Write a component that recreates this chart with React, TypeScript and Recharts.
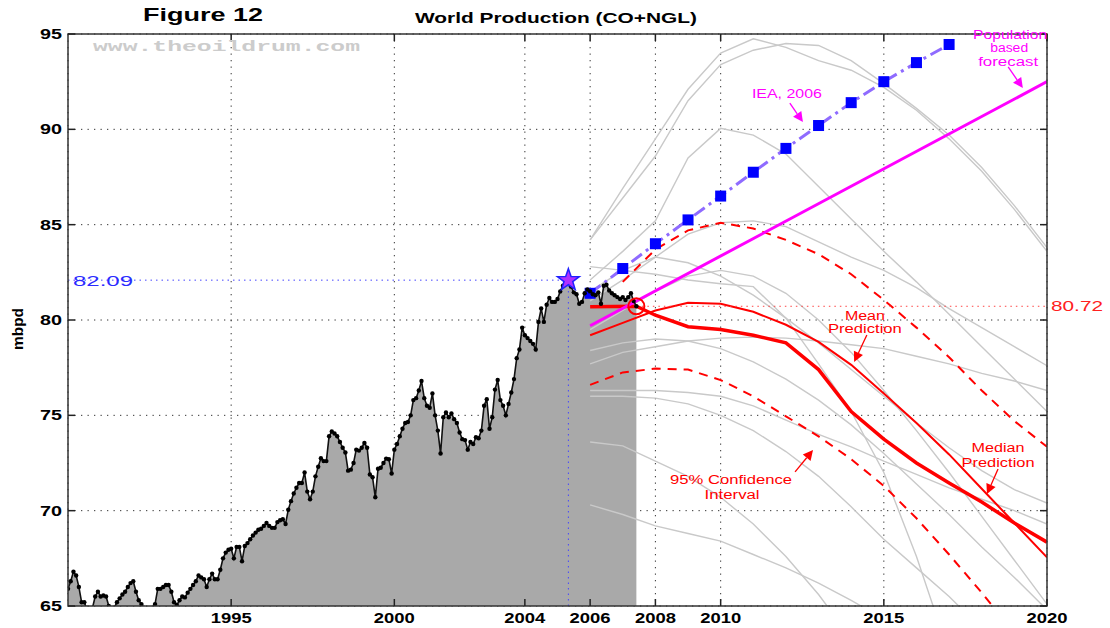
import React from 'react';
import {
  ComposedChart, Area, Line, XAxis, YAxis, CartesianGrid, ReferenceLine, ReferenceDot,
} from 'recharts';

// monthly world production (CO+NGL), mbpd, starting Jan 1990
const prod1990to1994 = [
  65.9, 66.3, 66.8, 66.6, 66.0, 65.2, 65.2, 64.8, 64.7, 64.9, 65.5, 65.75,
  65.5, 65.55, 65.5, 65.0, 64.8, 64.9, 65.2, 65.4, 65.6, 65.75, 66.0, 66.2,
  66.3, 65.75, 65.3, 65.1, 64.9, 64.8, 64.8, 64.9, 65.1, 65.9, 65.9, 66.0,
  66.1, 66.1, 65.75, 65.2, 65.05, 65.3, 65.5, 65.45, 65.7, 65.9, 66.1, 66.3,
  66.6, 66.5, 66.4, 66.0, 66.4, 66.7, 66.4, 66.4, 66.9, 67.5, 67.8, 67.95,
];
const prod1995to1999 = [
  68.0, 67.5, 68.1, 68.1, 67.35, 68.15, 68.3, 68.5, 68.7, 68.85, 69.0, 69.05,
  69.2, 69.35, 69.2, 69.1, 69.1, 69.4, 69.5, 69.55, 69.3, 70.05, 70.5, 70.9,
  71.2, 71.45, 71.45, 72.0, 71.0, 70.6, 71.0, 71.8, 72.3, 72.75, 72.6, 72.6,
  73.9, 74.15, 74.05, 73.9, 73.6, 73.3, 73.05, 72.1, 72.15, 72.5, 73.2, 73.15,
  73.3, 73.55, 73.3, 71.9, 71.75, 70.7, 72.2, 72.25, 72.5, 72.73, 72.7, 71.95,
];
const prod2000to2004 = [
  73.2, 73.5, 73.9, 74.3, 74.6, 74.65, 75.0, 75.8, 75.9, 76.3, 76.8, 75.9,
  75.5, 75.4, 76.15, 75.0, 74.2, 73.0, 74.9, 75.15, 74.9, 75.1, 74.8, 74.6,
  74.1, 73.75, 73.7, 73.2, 73.6, 73.5, 73.85, 73.8, 74.2, 75.5, 75.85, 74.3,
  74.9, 76.35, 76.85, 75.8, 75.5, 75.0, 75.6, 76.2, 76.9, 78.0, 78.45, 79.6,
  79.2, 79.05, 78.9, 78.75, 78.45, 79.9, 80.6, 79.9, 80.8, 81.15, 80.95, 80.95,
];
const prod2005to2007 = [
  81.1, 81.5, 81.8, 82.0, 82.09, 81.75, 81.45, 81.35, 80.85, 80.95, 81.4, 81.6,
  81.5, 81.35, 81.3, 81.45, 80.85, 81.8, 81.85, 81.55, 81.4, 81.3, 81.2, 81.1,
  81.2, 81.05, 81.2, 81.4, 81.0, 80.72,
];

const peakYear = 2005 + 4 / 12;
const peakValue = 82.09;
const lastYear = 2007 + 5 / 12;
const lastValue = 80.72;

const forecastYears = [2006, 2007, 2008, 2009, 2010, 2011, 2012, 2013, 2014, 2015, 2016, 2017, 2018, 2019, 2020];

const iea2006 = [81.4, 82.7, 84.0, 85.25, 86.5, 87.75, 89.0, 90.2, 91.4, 92.5, 93.5, 94.45];
const populationBased = [79.7, null, null, null, null, null, null, null, null, null, null, null, null, null, 92.5];
const meanPrediction = [79.2, 79.85, 80.5, 80.9, 80.85, 80.43, 79.75, 78.85, 77.65, 76.15, 74.6, 72.95, 71.15, 69.35, 67.55];
const medianYears = [2006, lastYear, 2008, 2009, 2010, 2011, 2012, 2013, 2014, 2015, 2016, 2017, 2018, 2019, 2020];
const medianPrediction = [80.7, 80.72, 80.25, 79.65, 79.5, 79.2, 78.8, 77.4, 75.2, 73.75, 72.5, 71.45, 70.45, 69.35, 68.35];
const upperCI = [null, 82.0, 83.7, 84.7, 85.1, 84.8, 84.2, 83.45, 82.4, 81.05, 79.6, 78.05, 76.3, 74.7, 73.35];
const lowerCI = [76.6, 77.25, 77.45, 77.4, 76.85, 76.0, 74.95, 73.9, 72.7, 71.3, 69.6, 67.7, 65.7, 63.6];

// individual model runs, one value per forecast year
const runs: number[][] = [
  [84.2, 86.9, 89.5, 92.1, 94.0, 94.75, 94.3, 93.6, 93.1, 92.2, 91.0, 89.5, 87.8, 85.8, 83.6],
  [84.2, 86.4, 88.6, 91.5, 93.4, 94.15, 94.5, 94.4, 93.6, 92.4, 91.1, 89.7, 88.0, 86.0, 83.8],
  [82.1, 83.6, 85.2, 88.5, 90.05, 89.7, 88.7, 87.0, 85.3, 83.6, 82.0, 80.3, 78.6, 76.9, 75.2],
  [81.0, 82.1, 83.3, 84.5, 85.1, 85.2, 84.9, 84.1, 83.3, 82.6, 81.7, 80.6, 79.6, 78.6, 77.6],
  [82.8, 82.6, 82.4, 82.1, 81.9, 81.75, 80.1, 77.7, 75.2, 72.0, 67.6, 62.5],
  [77.7, 78.3, 78.6, 78.9, 79.05, 79.1, 79.05, 78.9, 78.7, 78.5, 78.1, 77.7, 77.2, 76.8, 76.3],
  [79.5, 80.5, 81.5, 82.3, 82.6, 82.3, 81.4, 80.0, 78.3, 76.3, 74.2, 72.0, 69.7, 67.4, 65.1],
  [76.3, 76.3, 76.3, 76.2, 76.0, 75.5, 74.75, 74.0, 73.35, 72.6, 71.9, 71.2, 70.6, 70.0, 69.3],
  [76.0, 76.0, 75.9, 75.6, 75.0, 74.2, 73.1, 71.8, 70.2, 68.5, 67.0, 65.5, 63.8],
  [73.6, 73.4, 72.6, 71.8, 70.7, 69.3, 67.6, 65.6, 63.3],
  [70.3, 69.8, 69.2, 68.8, 68.4, 67.7, 67.0, 66.2, 65.3, 64.3],
  [81.5, 82.6, 83.3, 83.0, 82.3, 81.3, 80.1, 78.8, 77.4, 76.0, 74.6, 73.3, 72.1, 71.1, 70.4],
  [78.4, 78.8, 79.0, 78.9, 78.5, 77.8, 76.9, 75.8, 74.5, 73.0, 71.4, 69.8, 68.1, 66.5, 64.8],
];

const xTicks = [1995, 2000, 2004, 2006, 2008, 2010, 2015, 2020];
const yTicks = [65, 70, 75, 80, 85, 90, 95];

// layout
const W = 1110;
const H = 628;
const PLOT = { left: 68, right: 1047, top: 34, bottom: 606 };
const px = (yr: number) => PLOT.left + ((yr - 1990) / 30) * (PLOT.right - PLOT.left);
const py = (v: number) => PLOT.bottom - ((v - 65) / 30) * (PLOT.bottom - PLOT.top);
const FONT = '"Liberation Sans", Arial, sans-serif';

// merge every series into one table keyed by decimal year
const rows = new Map<number, any>();
const put = (x: number, field: string, v: number | null | undefined) => {
  if (v == null) return;
  const k = Math.round(x * 1000) / 1000;
  const r = rows.get(k) ?? { x: k };
  r[field] = v;
  rows.set(k, r);
};
[...prod1990to1994, ...prod1995to1999, ...prod2000to2004, ...prod2005to2007].forEach((v, m) =>
  put(1990 + m / 12, 'prod', v));
forecastYears.forEach((yr, i) => {
  put(yr, 'iea', iea2006[i]);
  put(yr, 'pop', populationBased[i]);
  put(yr, 'mean', meanPrediction[i]);
  put(yr, 'hi', upperCI[i]);
  put(yr, 'lo', lowerCI[i]);
  runs.forEach((run, j) => put(yr, `run${j}`, run[i]));
});
medianYears.forEach((yr, i) => put(yr, 'median', medianPrediction[i]));
const table = Array.from(rows.values()).sort((a, b) => a.x - b.x);

const XTick = (p: any) => (
  <text x={p.x} y={PLOT.bottom + 17} textAnchor="middle" fontSize={14} fontWeight="bold"
    fontFamily={FONT} textLength={41} lengthAdjust="spacingAndGlyphs" fill="#000">
    {p.payload.value}
  </text>
);

const YTick = (p: any) => (
  <text x={PLOT.left - 6} y={p.y + 5} textAnchor="end" fontSize={14} fontWeight="bold"
    fontFamily={FONT} textLength={22} lengthAdjust="spacingAndGlyphs" fill="#000">
    {p.payload.value}
  </text>
);

const Square = (p: any) => {
  if (p.value == null || p.cy == null || isNaN(p.cy)) return <g key={p.key} />;
  return <rect key={p.key} x={p.cx - 5.5} y={p.cy - 5.5} width={11} height={11} fill="#0000ff" />;
};

const Star = (p: any) => {
  const pts: string[] = [];
  for (let i = 0; i < 10; i++) {
    const a = (-90 + i * 36) * Math.PI / 180;
    const rad = i % 2 ? 4.6 : 11.5;
    pts.push(`${p.cx + rad * Math.cos(a)},${p.cy + rad * Math.sin(a)}`);
  }
  return <polygon points={pts.join(' ')} fill="#b030ff" stroke="#2020ff" strokeWidth={1.5} />;
};

const Ring = (p: any) => (
  <circle cx={p.cx} cy={p.cy} r={8} fill="none" stroke="#ff0000" strokeWidth={2} />
);

type Note = { x: number; y: number; text: string; w: number; color: string };
const notes: Note[] = [
  { x: 2012.03, y: 91.9, text: 'IEA, 2006', w: 70, color: '#ff00ff' },
  { x: 2018.87, y: 95.0, text: 'Population', w: 74, color: '#ff00ff' },
  { x: 2018.84, y: 94.27, text: 'based', w: 38, color: '#ff00ff' },
  { x: 2018.81, y: 93.58, text: 'forecast', w: 60, color: '#ff00ff' },
  { x: 2014.42, y: 80.26, text: 'Mean', w: 40, color: '#ff0000' },
  { x: 2014.42, y: 79.53, text: 'Prediction', w: 74, color: '#ff0000' },
  { x: 2018.5, y: 73.29, text: 'Median', w: 53, color: '#ff0000' },
  { x: 2018.5, y: 72.55, text: 'Prediction', w: 73, color: '#ff0000' },
  { x: 2010.32, y: 71.61, text: '95% Confidence', w: 122, color: '#ff0000' },
  { x: 2010.35, y: 70.87, text: 'Interval', w: 55, color: '#ff0000' },
];

type Arrow = { x1: number; y1: number; x2: number; y2: number; color: string };
const arrows: Arrow[] = [
  { x1: 2012.12, y1: 91.37, x2: 2012.52, y2: 90.38, color: '#ff00ff' },
  { x1: 2018.81, y1: 93.27, x2: 2019.26, y2: 92.17, color: '#ff00ff' },
  { x1: 2014.48, y1: 79.21, x2: 2014.09, y2: 77.8, color: '#ff0000' },
  { x1: 2018.5, y1: 72.19, x2: 2018.16, y2: 70.87, color: '#ff0000' },
  { x1: 2012.28, y1: 72.03, x2: 2012.83, y2: 73.18, color: '#ff0000' },
];

const ArrowMark = ({ a }: { a: Arrow }) => {
  const x1 = px(a.x1), y1 = py(a.y1), x2 = px(a.x2), y2 = py(a.y2);
  const ang = Math.atan2(y2 - y1, x2 - x1);
  const L = 10, S = 5;
  const bx = x2 - L * Math.cos(ang), by = y2 - L * Math.sin(ang);
  const head = [
    `${x2},${y2}`,
    `${bx + S * Math.sin(ang)},${by - S * Math.cos(ang)}`,
    `${bx - S * Math.sin(ang)},${by + S * Math.cos(ang)}`,
  ].join(' ');
  return (
    <g>
      <line x1={x1} y1={y1} x2={bx} y2={by} stroke={a.color} strokeWidth={1.3} />
      <polygon points={head} fill={a.color} />
    </g>
  );
};

export default function App() {
  return (
    <div style={{ position: 'absolute', left: 0, top: 0, width: W, height: H, background: '#fff' }}>
      <ComposedChart width={W} height={H} data={table}
        margin={{ top: PLOT.top, right: W - PLOT.right, bottom: 0, left: 8 }}>
        <CartesianGrid stroke="#333" strokeDasharray="1.3 5.2" />
        <XAxis dataKey="x" type="number" domain={[1990, 2020]} ticks={xTicks} interval={0}
          allowDataOverflow height={22} axisLine={false} tickLine={false} tick={XTick} />
        <YAxis type="number" domain={[65, 95]} ticks={yTicks} interval={0}
          allowDataOverflow width={60} axisLine={false} tickLine={false} tick={YTick} />

        <Area dataKey="prod" stroke="none" fill="#a9a9a9" fillOpacity={1} baseValue={65}
          isAnimationActive={false} />

        {runs.map((_, j) => (
          <Line key={j} dataKey={`run${j}`} stroke="#c9c9c9" strokeWidth={1.4} dot={false}
            connectNulls isAnimationActive={false} />
        ))}

        <Line dataKey="hi" stroke="#ff0000" strokeWidth={2} strokeDasharray="9 7" dot={false}
          connectNulls isAnimationActive={false} />
        <Line dataKey="lo" stroke="#ff0000" strokeWidth={2} strokeDasharray="9 7" dot={false}
          connectNulls isAnimationActive={false} />
        <Line dataKey="mean" stroke="#ff0000" strokeWidth={2} dot={false}
          connectNulls isAnimationActive={false} />
        <Line dataKey="median" stroke="#ff0000" strokeWidth={3.5} dot={false}
          connectNulls isAnimationActive={false} />
        <Line dataKey="pop" stroke="#ff00ff" strokeWidth={3} dot={false}
          connectNulls isAnimationActive={false} />
        <Line dataKey="iea" stroke="#8f6bff" strokeWidth={3} strokeDasharray="13 5 3 5"
          dot={Square} connectNulls isAnimationActive={false} />

        <Line dataKey="prod" stroke="#111" strokeWidth={1.6}
          dot={{ r: 2.2, fill: '#000', stroke: '#000', strokeWidth: 0 }}
          isAnimationActive={false} />

        <ReferenceLine segment={[{ x: 1990, y: peakValue }, { x: peakYear, y: peakValue }]}
          stroke="#4444ff" strokeDasharray="1.5 4" />
        <ReferenceLine segment={[{ x: peakYear, y: 65 }, { x: peakYear, y: peakValue }]}
          stroke="#4444ff" strokeDasharray="1.5 4" />
        <ReferenceLine segment={[{ x: lastYear, y: lastValue }, { x: 2020, y: lastValue }]}
          stroke="#ff4444" strokeDasharray="1.5 4" />

        <ReferenceDot x={peakYear} y={peakValue} r={11} shape={Star} />
        <ReferenceDot x={lastYear} y={lastValue} r={8} shape={Ring} />
      </ComposedChart>

      <svg width={W} height={H} style={{ position: 'absolute', left: 0, top: 0, pointerEvents: 'none' }}
        fontFamily={FONT}>
        {/* plot frame with inward ticks on all four sides */}
        <rect x={PLOT.left} y={PLOT.top} width={PLOT.right - PLOT.left} height={PLOT.bottom - PLOT.top}
          fill="none" stroke="#333" strokeWidth={1.5} />
        {xTicks.map((t) => (
          <g key={`xt${t}`} stroke="#222" strokeWidth={1.5}>
            <line x1={px(t)} x2={px(t)} y1={PLOT.bottom} y2={PLOT.bottom - 7} />
            <line x1={px(t)} x2={px(t)} y1={PLOT.top} y2={PLOT.top + 7} />
          </g>
        ))}
        {yTicks.map((t) => (
          <g key={`yt${t}`} stroke="#222" strokeWidth={1.5}>
            <line x1={PLOT.left} x2={PLOT.left + 7} y1={py(t)} y2={py(t)} />
            <line x1={PLOT.right} x2={PLOT.right - 7} y1={py(t)} y2={py(t)} />
          </g>
        ))}

        <text x={143} y={21} fontSize={19} fontWeight="bold" textLength={120}
          lengthAdjust="spacingAndGlyphs">Figure 12</text>
        <text x={415} y={23} fontSize={14} fontWeight="bold" textLength={282}
          lengthAdjust="spacingAndGlyphs">World Production (CO+NGL)</text>
        <text x={93} y={51} fontSize={15} fontWeight="bold" fill="#cccccc"
          fontFamily='"Liberation Mono", "DejaVu Sans Mono", monospace'
          textLength={267} lengthAdjust="spacingAndGlyphs">www.theoildrum.com</text>
        <text transform="translate(23,329) rotate(-90)" textAnchor="middle" fontSize={14}
          fontWeight="bold" textLength={42} lengthAdjust="spacingAndGlyphs">mbpd</text>

        <text x={PLOT.left + 5} y={py(peakValue) + 6} fontSize={14} fill="#2b2bff"
          textLength={60} lengthAdjust="spacingAndGlyphs">{peakValue.toFixed(2)}</text>
        <text x={PLOT.right + 4} y={py(lastValue) + 5} fontSize={14} fill="#ff2020"
          textLength={52} lengthAdjust="spacingAndGlyphs">{lastValue.toFixed(2)}</text>

        {notes.map((n, i) => (
          <text key={`n${i}`} x={px(n.x)} y={py(n.y) + 4.5} textAnchor="middle" fontSize={12}
            fill={n.color} textLength={n.w} lengthAdjust="spacingAndGlyphs">{n.text}</text>
        ))}
        {arrows.map((a, i) => <ArrowMark key={`a${i}`} a={a} />)}
      </svg>
    </div>
  );
}
